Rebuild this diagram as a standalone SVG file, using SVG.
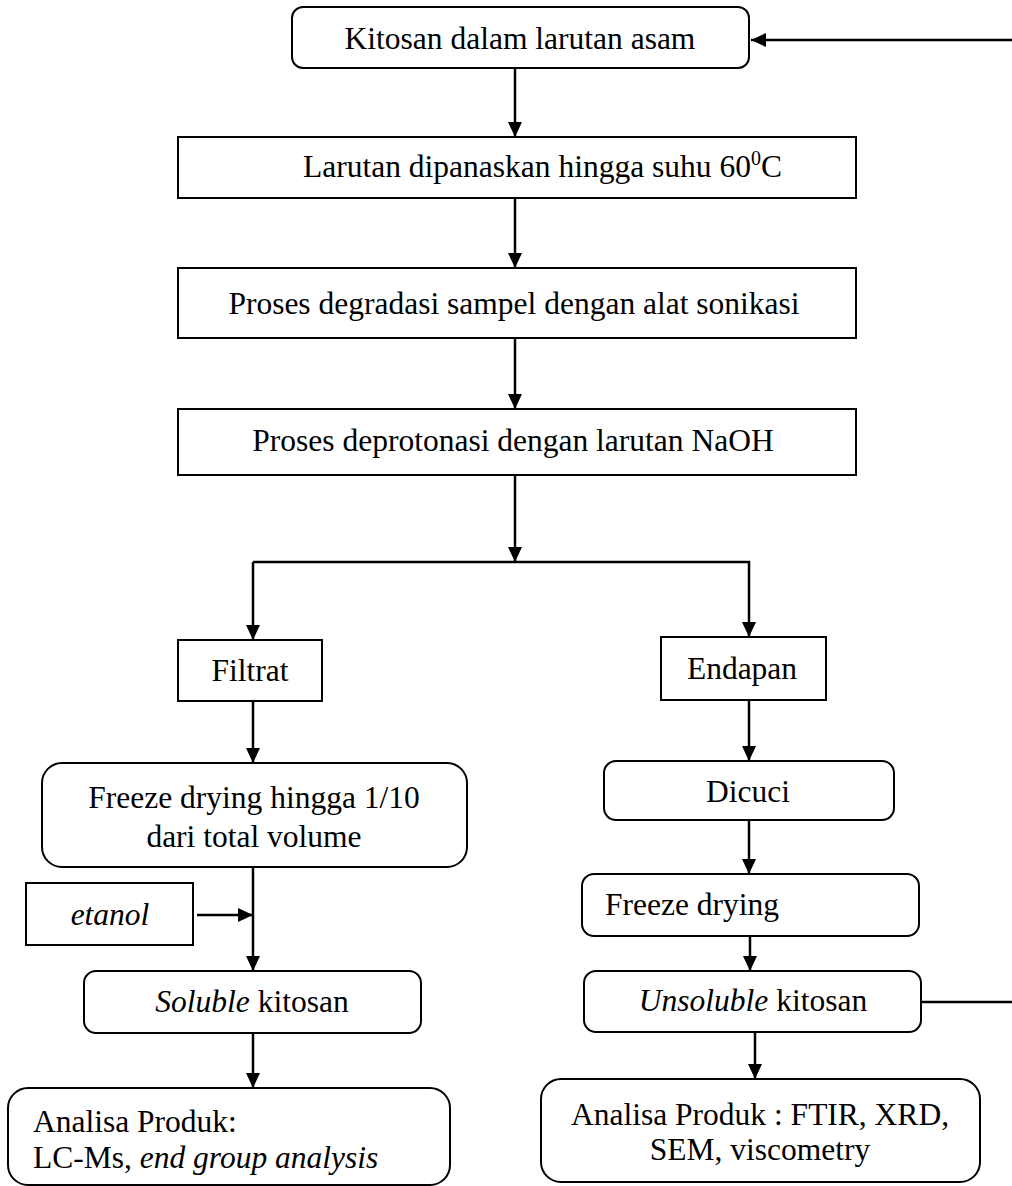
<svg xmlns="http://www.w3.org/2000/svg" width="1012" height="1186" viewBox="0 0 1012 1186">
<style>
  .box { fill: #ffffff; stroke: #000000; stroke-width: 2; }
  .t { font-family: "Liberation Serif", "Times New Roman", serif; font-size: 31.5px; fill: #000000; }
  .c { text-anchor: middle; }
  .i { font-style: italic; }
  .ln { fill: none; stroke: #000000; stroke-width: 2.5; }
</style>
<defs>
  <marker id="arr" markerUnits="userSpaceOnUse" markerWidth="15" markerHeight="14" refX="15" refY="7" orient="auto">
    <path d="M0,0 L15,7 L0,14 Z" fill="#000000"/>
  </marker>
</defs>
<rect width="1012" height="1186" fill="#ffffff"/>

<g id="connectors">
  <path class="ln" d="M921,1002 H1016 V40 H751" marker-end="url(#arr)"/>
  <line class="ln" x1="515" y1="68" x2="515" y2="137" marker-end="url(#arr)"/>
  <line class="ln" x1="515" y1="198" x2="515" y2="268" marker-end="url(#arr)"/>
  <line class="ln" x1="515" y1="338" x2="515" y2="409" marker-end="url(#arr)"/>
  <line class="ln" x1="515" y1="475" x2="515" y2="562" marker-end="url(#arr)"/>
  <path class="ln" d="M253,562 H749 V637" marker-end="url(#arr)"/>
  <line class="ln" x1="253" y1="562" x2="253" y2="640" marker-end="url(#arr)"/>
  <line class="ln" x1="253" y1="701" x2="253" y2="763" marker-end="url(#arr)"/>
  <line class="ln" x1="253" y1="867" x2="253" y2="971" marker-end="url(#arr)"/>
  <line class="ln" x1="197" y1="915" x2="253" y2="915" marker-end="url(#arr)"/>
  <line class="ln" x1="253" y1="1033" x2="253" y2="1088" marker-end="url(#arr)"/>
  <line class="ln" x1="749" y1="700" x2="749" y2="761" marker-end="url(#arr)"/>
  <line class="ln" x1="749" y1="820" x2="749" y2="874" marker-end="url(#arr)"/>
  <line class="ln" x1="750" y1="936" x2="750" y2="971" marker-end="url(#arr)"/>
  <line class="ln" x1="755" y1="1032" x2="755" y2="1079" marker-end="url(#arr)"/>
</g>

<g id="n1">
  <rect class="box" x="292" y="7" width="457" height="61" rx="11"/>
  <text class="t c" x="520" y="49">Kitosan dalam larutan asam</text>
</g>
<g id="n2">
  <rect class="box" x="178" y="137" width="678" height="61"/>
  <text class="t" x="303" y="177">Larutan dipanaskan hingga suhu 60<tspan font-size="20" dy="-12">0</tspan><tspan dy="12">C</tspan></text>
</g>
<g id="n3">
  <rect class="box" x="178" y="268" width="678" height="70"/>
  <text class="t c" x="514" y="314">Proses degradasi sampel dengan alat sonikasi</text>
</g>
<g id="n4">
  <rect class="box" x="178" y="409" width="678" height="66"/>
  <text class="t c" x="513" y="451">Proses deprotonasi dengan larutan NaOH</text>
</g>
<g id="n5">
  <rect class="box" x="178" y="640" width="144" height="61"/>
  <text class="t c" x="250" y="681">Filtrat</text>
</g>
<g id="n6">
  <rect class="box" x="661" y="637" width="165" height="63"/>
  <text class="t c" x="742" y="679">Endapan</text>
</g>
<g id="n7">
  <rect class="box" x="42" y="763" width="425" height="104" rx="20"/>
  <text class="t c" x="254" y="808">Freeze drying hingga 1/10</text>
  <text class="t c" x="254" y="847">dari total volume</text>
</g>
<g id="n8">
  <rect class="box" x="26" y="883" width="167" height="62"/>
  <text class="t c i" x="110" y="925">etanol</text>
</g>
<g id="n9">
  <rect class="box" x="84" y="971" width="337" height="62" rx="12"/>
  <text class="t c" x="252" y="1012"><tspan class="i">Soluble</tspan> kitosan</text>
</g>
<g id="n10">
  <rect class="box" x="8" y="1088" width="442" height="97" rx="20"/>
  <text class="t" x="33" y="1132">Analisa Produk:</text>
  <text class="t" x="33" y="1168">LC-Ms, <tspan class="i">end group analysis</tspan></text>
</g>
<g id="n11">
  <rect class="box" x="604" y="761" width="290" height="59" rx="12"/>
  <text class="t c" x="748" y="802">Dicuci</text>
</g>
<g id="n12">
  <rect class="box" x="582" y="874" width="337" height="62" rx="12"/>
  <text class="t" x="605" y="915">Freeze drying</text>
</g>
<g id="n13">
  <rect class="box" x="584" y="971" width="337" height="61" rx="12"/>
  <text class="t c" x="753" y="1011"><tspan class="i">Unsoluble</tspan> kitosan</text>
</g>
<g id="n14">
  <rect class="box" x="541" y="1079" width="439" height="103" rx="20"/>
  <text class="t c" x="760" y="1125">Analisa Produk : FTIR, XRD,</text>
  <text class="t c" x="760" y="1160">SEM, viscometry</text>
</g>
</svg>
